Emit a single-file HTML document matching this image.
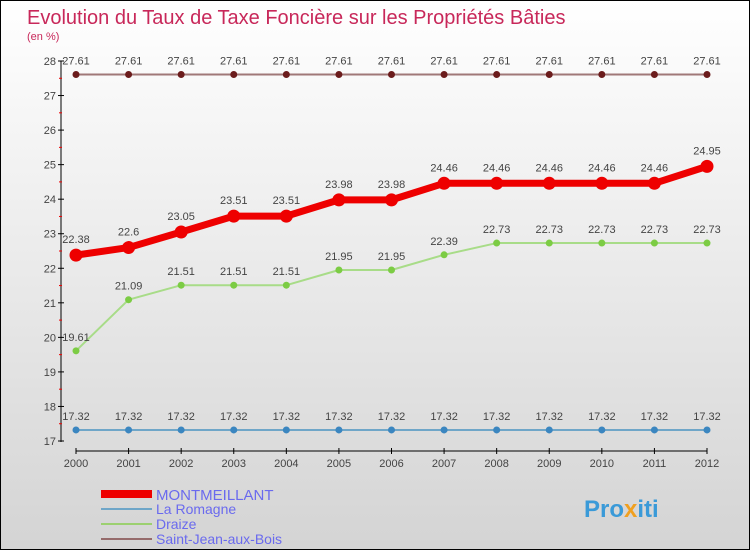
<!DOCTYPE html>
<html><head><meta charset="utf-8"><style>
body{margin:0}
#c{width:750px;height:550px;position:relative;box-sizing:border-box;border:1px solid #000;background:linear-gradient(#fff,#d4d4d4);font-family:"Liberation Sans",sans-serif;overflow:hidden}
</style></head><body>
<div id="c">
<svg id="s" width="750" height="550" style="position:absolute;left:0;top:0">
<text x="26" y="23" font-size="20" fill="#c8285a">Evolution du Taux de Taxe Foncière sur les Propriétés Bâties</text>
<text x="26" y="39" font-size="11" fill="#c8285a">(en %)</text>
<line x1="60" y1="60" x2="60" y2="441" stroke="#000"/>
<line x1="75" y1="450" x2="706" y2="450" stroke="#000"/>
<g id="axes"></g><g id="series"></g>
<g>
<rect x="100" y="489" width="51" height="8" fill="#e00"/>
<text x="155" y="499" font-size="15" fill="#6a6aee">MONTMEILLANT</text>
<line x1="100" y1="508" x2="151" y2="508" stroke="#6fa6c8" stroke-width="2"/>
<text x="155" y="513" font-size="14" fill="#6a6aee">La Romagne</text>
<line x1="100" y1="523" x2="151" y2="523" stroke="#9cd070" stroke-width="2"/>
<text x="155" y="528" font-size="14" fill="#6a6aee">Draize</text>
<line x1="100" y1="538" x2="151" y2="538" stroke="#956b6b" stroke-width="2"/>
<text x="155" y="543" font-size="14" fill="#6a6aee">Saint-Jean-aux-Bois</text>
</g>
<text x="583" y="516" font-size="24" font-weight="bold" fill="#3a9ad8">Pro<tspan fill="#f0a020">x</tspan>iti</text>
</svg>
</div>
<script>
const years=[2000,2001,2002,2003,2004,2005,2006,2007,2008,2009,2010,2011,2012];
const yTicks=[17,18,19,20,21,22,23,24,25,26,27,28];
const montmeillant=[22.38,22.6,23.05,23.51,23.51,23.98,23.98,24.46,24.46,24.46,24.46,24.46,24.95];
const laRomagne=[17.32,17.32,17.32,17.32,17.32,17.32,17.32,17.32,17.32,17.32,17.32,17.32,17.32];
const draize=[19.61,21.09,21.51,21.51,21.51,21.95,21.95,22.39,22.73,22.73,22.73,22.73,22.73];
const saintJean=[27.61,27.61,27.61,27.61,27.61,27.61,27.61,27.61,27.61,27.61,27.61,27.61,27.61];
const NS="http://www.w3.org/2000/svg";
const X=i=>75+i*(706-75)/(years.length-1);
const Y=v=>60+(28-v)*(440-60)/11;
function mk(t,a,p){const e=document.createElementNS(NS,t);for(const k in a)e.setAttribute(k,a[k]);p.appendChild(e);return e;}
const ax=document.getElementById('axes');
yTicks.forEach(v=>{
 const l=mk('line',{x1:57,y1:Y(v),x2:63,y2:Y(v),stroke:'#000'},ax);
 
 
 const t=mk('text',{x:55,y:Y(v)+4,'font-size':11,fill:'#444','text-anchor':'end'},ax);t.textContent=v;
 
 
 if(v<28){const m=mk('line',{x1:58,y1:Y(v+0.5),x2:61,y2:Y(v+0.5),stroke:'#e00'},ax);
 
 }
});
years.forEach((yr,i)=>{
 const l=mk('line',{x1:X(i),y1:447,x2:X(i),y2:453,stroke:'#000'},ax);
 
 
 const t=mk('text',{x:X(i),y:466,'font-size':11,fill:'#444','text-anchor':'middle'},ax);t.textContent=yr;
 
 
});
const sg=document.getElementById('series');
function draw(data,name,lc,pc,lw,r){
 const g=mk('g',{},sg);
 
 
 const p=mk('polyline',{points:data.map((v,i)=>X(i)+','+Y(v)).join(' '),fill:'none',stroke:lc,'stroke-width':lw,'stroke-linejoin':'round'},g);
 
 
 data.forEach((v,i)=>{
  const c=mk('circle',{cx:X(i),cy:Y(v),r:r,fill:pc},g);
  
  
  const t=mk('text',{x:X(i),y:Y(v)-10-(r>5?2:0),'font-size':11,fill:'#444','text-anchor':'middle'},g);t.textContent=v;
  
  
 });
}
draw(saintJean,'saint-jean-aux-bois','#a07878','#6b1c1c',2,3.5);
draw(laRomagne,'la-romagne','#6fa6c8','#3b86c0',2,3.5);
draw(draize,'draize','#a8dc88','#7ccc44',2,3.5);
draw(montmeillant,'montmeillant','#e00','#e00',7,6.5);
</script>
</body></html>
